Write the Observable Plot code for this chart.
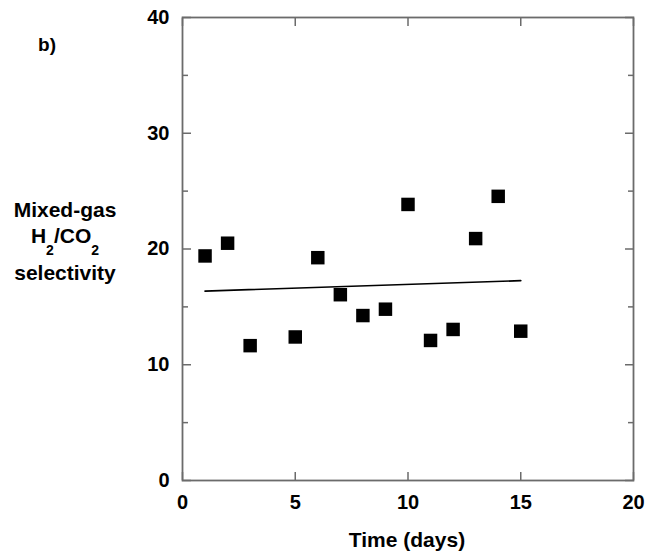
<!DOCTYPE html>
<html>
<head>
<meta charset="utf-8">
<script src="https://cdn.jsdelivr.net/npm/d3@7"></script>
<script src="https://cdn.jsdelivr.net/npm/@observablehq/plot@0.6"></script>
<style>
  html, body { margin: 0; padding: 0; background: #fff; }
  #chart { position: relative; width: 648px; height: 553px; }
</style>
</head>
<body>
<div id="chart"></div>
<script>
// Data
const days = [1, 2, 3, 5, 6, 7, 8, 9, 10, 11, 12, 13, 14, 15];
const selectivity = [19.4, 20.5, 11.65, 12.4, 19.25, 16.05, 14.25, 14.8, 23.85, 12.1, 13.05, 20.9, 24.55, 12.9];
const xTicks = [0, 5, 10, 15, 20];
const yMajorTicks = [0, 10, 20, 30, 40];
const yMinorTicks = [5, 15, 25, 35];

const data = days.map((d, i) => ({day: d, sel: selectivity[i]}));

const FONT = "Arial, 'Liberation Sans', Helvetica, sans-serif";
const frameColor = "#6b6b6b";

const plot = Plot.plot({
  width: 648,
  height: 553,
  marginLeft: 182,
  marginRight: 15,
  marginTop: 17,
  marginBottom: 73,
  style: {fontFamily: FONT, fontWeight: "bold", fontSize: "20px", color: "#000", background: "#fff"},
  x: {domain: [0, 20]},
  y: {domain: [0, 40]},
  marks: [
    // inward ticks on all four sides
    Plot.axisX({anchor: "bottom", ticks: xTicks, tickSize: -8, stroke: frameColor, strokeWidth: 1.5, text: null, label: null}),
    Plot.axisX({anchor: "top", ticks: xTicks, tickSize: -8, stroke: frameColor, strokeWidth: 1.5, text: null, label: null}),
    Plot.axisY({anchor: "left", ticks: yMajorTicks, tickSize: -9, stroke: frameColor, strokeWidth: 1.5, text: null, label: null}),
    Plot.axisY({anchor: "left", ticks: yMinorTicks, tickSize: -6, stroke: frameColor, strokeWidth: 1.5, text: null, label: null}),
    Plot.axisY({anchor: "right", ticks: yMajorTicks, tickSize: -9, stroke: frameColor, strokeWidth: 1.5, text: null, label: null}),
    Plot.axisY({anchor: "right", ticks: yMinorTicks, tickSize: -6, stroke: frameColor, strokeWidth: 1.5, text: null, label: null}),
    // tick labels
    Plot.axisX({anchor: "bottom", ticks: xTicks, tickSize: 0, tickPadding: 14, label: null, fill: "#000", fontSize: 20}),
    Plot.axisY({anchor: "left", ticks: yMajorTicks, tickSize: 0, tickPadding: 13, label: null, fill: "#000", fontSize: 20}),
    Plot.frame({stroke: frameColor, strokeWidth: 1.8}),
    Plot.linearRegressionY(data, {x: "day", y: "sel", ci: 0, stroke: "#000", strokeWidth: 1.7}),
    Plot.dot(data, {x: "day", y: "sel", symbol: "square", r: 7.6, fill: "#000", stroke: "none"})
  ]
});

document.getElementById("chart").appendChild(plot);

const svg = d3.select(plot);
function label(x, y, size) {
  return svg.append("text")
    .attr("x", x).attr("y", y)
    .attr("text-anchor", "middle")
    .style("font-family", FONT).style("font-weight", "bold").style("font-size", size + "px")
    .attr("fill", "#000");
}
// x axis title
label(407, 547, 21).text("Time (days)");

// y axis title (horizontal, three lines, with subscripts)
label(65, 217, 21).text("Mixed-gas");
const l2 = label(65, 243, 21);
l2.append("tspan").text("H");
l2.append("tspan").attr("dy", 12).style("font-size", "14px").text("2");
l2.append("tspan").attr("dy", -12).text("/CO");
l2.append("tspan").attr("dy", 12).style("font-size", "14px").text("2");
label(65, 280, 21).text("selectivity");

// panel letter
label(47, 51, 19).text("b)");
</script>
</body>
</html>
